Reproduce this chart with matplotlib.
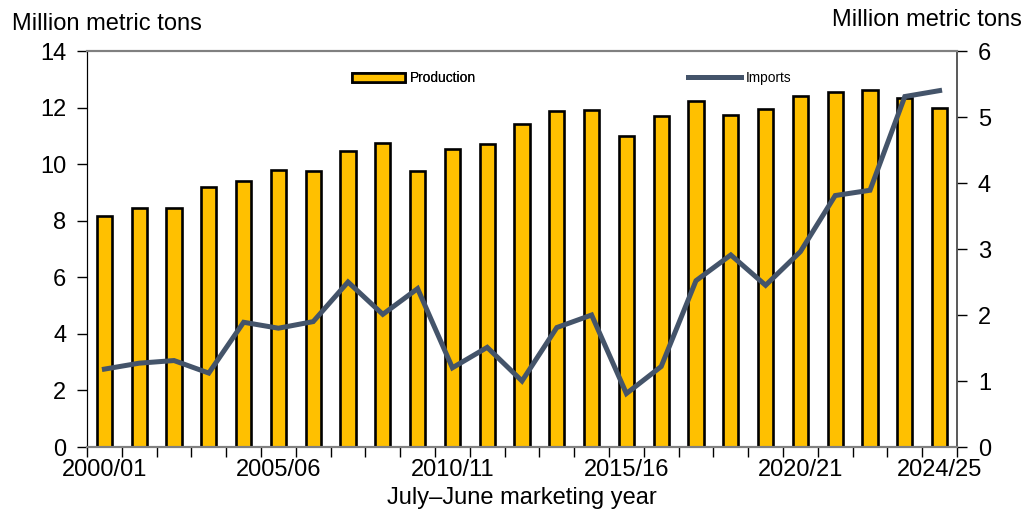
import numpy as np
import matplotlib.pyplot as plt

plt.rcParams['font.family'] = ['Liberation Sans', 'DejaVu Sans']

years = [f"{y}/{str(y + 1)[-2:]}" for y in range(2000, 2025)]
production = [8.15, 8.45, 8.45, 9.19, 9.40, 9.79, 9.76, 10.46, 10.75, 9.76,
              10.53, 10.71, 11.43, 11.88, 11.91, 11.00, 11.69, 12.23, 11.74,
              11.94, 12.41, 12.54, 12.62, 12.34, 11.99]
imports = [1.18, 1.27, 1.31, 1.12, 1.89, 1.80, 1.90, 2.50, 2.01, 2.40,
           1.20, 1.51, 1.00, 1.81, 2.00, 0.81, 1.22, 2.52, 2.91, 2.45,
           2.96, 3.81, 3.89, 5.31, 5.40]
label_years = ["2000/01", "2005/06", "2010/11", "2015/16", "2020/21", "2024/25"]

gold = "#FFC000"
navy = "#44546A"
grey = "#808080"
fs = 17

fig = plt.figure(figsize=(10.26, 5.17), dpi=100)
ax = fig.add_axes([87 / 1026, 1 - 447 / 517, 870 / 1026, 396 / 517])
ax2 = ax.twinx()

x = np.arange(len(years))
bars = ax.bar(x, production, width=0.44, color=gold, edgecolor="black",
              linewidth=1.9, label="Production", zorder=2)
line, = ax2.plot(x, imports, color=navy, linewidth=3.6, label="Imports",
                 solid_joinstyle="miter")

ax.set_xlim(-0.5, len(years) - 0.5)
ax.set_ylim(0, 14)
ax.set_yticks(np.arange(0, 15, 2))
ax2.set_ylim(0, 6)
ax2.set_yticks(np.arange(0, 7, 1))

ax.set_xticks(np.arange(-0.5, len(years), 1), minor=True)
ax.set_xticks([years.index(l) for l in label_years])
ax.set_xticklabels(label_years)
ax.tick_params(axis="x", which="major", length=0, labelsize=fs, pad=9)
ax.tick_params(axis="x", which="minor", length=7, width=1, color="black",
               direction="out")
ax.tick_params(axis="y", labelsize=fs, length=7, width=1, direction="out",
               pad=8)
ax2.tick_params(axis="y", labelsize=fs, length=7, width=1, direction="out",
                pad=8)

for a in (ax, ax2):
    a.spines["top"].set_color(grey)
    a.spines["top"].set_linewidth(1.5)
    a.spines["bottom"].set_color(grey)
    a.spines["bottom"].set_linewidth(1.5)
    a.spines["left"].set_color("black")
    a.spines["right"].set_color("#595959")
    a.spines["right"].set_linewidth(1.2)

fig.text(12 / 1026, 1 - 24 / 517, "Million metric tons", fontsize=fs,
         va="center", ha="left")
fig.text(1022 / 1026, 1 - 20 / 517, "Million metric tons", fontsize=fs,
         va="center", ha="right")
ax.set_xlabel("July\u2013June marketing year", fontsize=fs, labelpad=4)

leg1 = ax.legend(handles=[bars], loc="center left", frameon=False,
                 bbox_to_anchor=(340 / 1026, 1 - 78 / 517),
                 bbox_transform=fig.transFigure, fontsize=9.9,
                 handlelength=3.8, handleheight=0.65, handletextpad=0.35)
ax.add_artist(leg1)
ax2.legend(handles=[line], loc="center left", frameon=False,
           bbox_to_anchor=(676 / 1026, 1 - 78 / 517),
           bbox_transform=fig.transFigure, fontsize=9.9,
           handlelength=3.8, handletextpad=0.35)

fig.savefig("out.png", dpi=100)
